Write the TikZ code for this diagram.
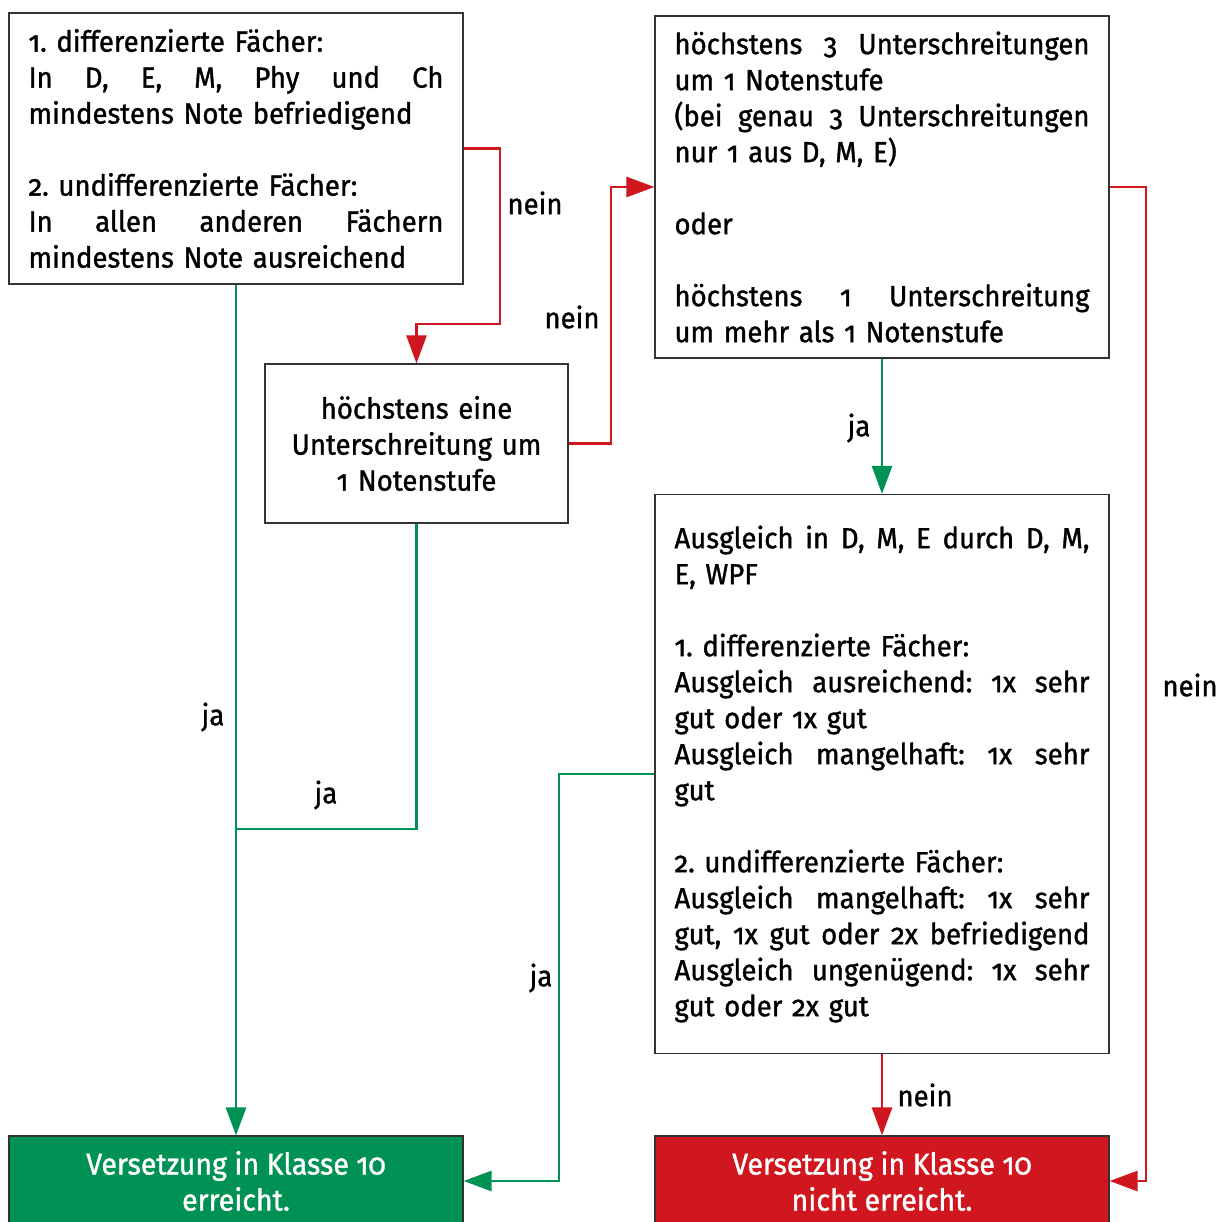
\documentclass[tikz,border=0pt]{standalone}
\usepackage{fontspec}
\setmainfont{Fira Sans}[Numbers=OldStyle, FakeStretch=0.95, UprightFeatures={FakeBold=1.2}]
\usetikzlibrary{arrows.meta}
\definecolor{gr}{RGB}{0,146,84}
\definecolor{rd}{RGB}{208,22,30}
\newcommand\jl[1]{\makebox[415pt][s]{\spaceskip=0.25em plus 1fil\relax #1}}
\frenchspacing
\begin{document}
\begin{tikzpicture}[x=1pt,y=-1pt,
  every node/.style={font=\fontsize{29}{36}\selectfont\frenchspacing, inner sep=0pt},
  box/.style={draw=black!80, line width=1.2pt, fill=white, align=left, text width=415pt, minimum width=454pt},
  endbox/.style={draw=black!80, line width=1.2pt, align=center, text=white, minimum width=454pt, minimum height=90pt, font=\fontsize{30}{36}\selectfont},
  gline/.style={draw=gr, line width=2.8pt},
  rline/.style={draw=rd, line width=2.8pt},
  tip/.style={-{Triangle[length=28pt,width=20pt]}},
  lbl/.style={text=black}]
\useasboundingbox (0,0) rectangle (1228,1221);
\fill[white] (0,0) rectangle (1228,1221);

\node[box, minimum height=271pt] (b1) at (236,148.5) {%
1. differenzierte Fächer:\\
\jl{In D, E, M, Phy und Ch}\\
mindestens Note befriedigend\\[36pt]
2. undifferenzierte Fächer:\\
\jl{In allen anderen Fächern}\\
mindestens Note ausreichend};

\node[draw=black!80, line width=1.2pt, align=center, text width=290pt, minimum width=303pt, minimum height=159pt] (b2) at (416.5,443.5) {%
höchstens eine\\ Unterschreitung um\\ 1 Notenstufe};

\node[box, minimum height=342pt] (b3) at (882,187) {%
\jl{höchstens 3 Unterschreitungen}\\
um 1 Notenstufe\\
\jl{(bei genau 3 Unterschreitungen}\\
nur 1 aus D, M, E)\\[36pt]
oder\\[36pt]
\jl{höchstens 1 Unterschreitung}\\
um mehr als 1 Notenstufe};

\node[box, minimum height=559pt] (b4) at (882,774) {%
\jl{Ausgleich in D, M, E durch D, M,}\\
E, WPF\\[36pt]
1. differenzierte Fächer:\\
\jl{Ausgleich ausreichend: 1x sehr}\\
gut oder 1x gut\\
\jl{Ausgleich mangelhaft: 1x sehr}\\
gut\\[36pt]
2. undifferenzierte Fächer:\\
\jl{Ausgleich mangelhaft: 1x sehr}\\
\jl{gut, 1x gut oder 2x befriedigend}\\
\jl{Ausgleich ungenügend: 1x sehr}\\
gut oder 2x gut};

\node[endbox, fill=gr] (g) at (236,1181) {Versetzung in Klasse 10\\ erreicht.};
\node[endbox, fill=rd] (r) at (882,1181) {Versetzung in Klasse 10\\ nicht erreicht.};

% red connectors
\draw[rline, tip] (b1.east) -| (500,324) -| (b2.north);
\draw[rline, tip] (b2.east) -| (611,187) -- (b3.west);
\draw[rline, tip] (b3.east) -- (1146,187) |- (r.east);
\draw[rline, tip] (b4.south) -- (r.north);
% green connectors
\draw[gline, tip] (b3.south) -- (b4.north);
\draw[gline, tip] (b1.south) -- (g.north);
\coordinate (join) at (236,829);
\draw[gline] (b2.south) |- (join);
\draw[gline, tip] (b4.west) -| (559,1181) -- (g.east);

% labels
\node[lbl] (l1) at (535,203) {nein};
\node[lbl] (l2) at (572,317) {nein};
\node[lbl] (l3) at (1190,685) {nein};
\node[lbl] (l4) at (925,1095) {nein};
\node[lbl] (l5) at (859,428) {ja};
\node[lbl] (l6) at (213,717) {ja};
\node[lbl] (l7) at (326,795) {ja};
\node[lbl] (l8) at (541,978) {ja};
\end{tikzpicture}
\end{document}
